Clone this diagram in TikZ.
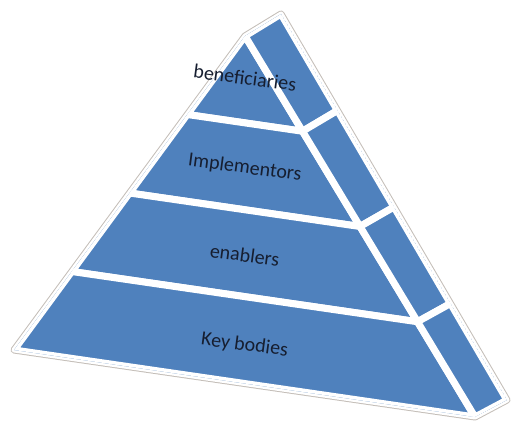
\documentclass[tikz,border=0pt]{standalone}
\usepackage{fontspec}
\setmainfont{Carlito}
\usetikzlibrary{calc}
\definecolor{layerblue}{RGB}{79,129,189}
\definecolor{rimgray}{RGB}{196,190,184}
\definecolor{labelink}{RGB}{22,30,48}

\begin{document}
\begin{tikzpicture}[x=1pt, y=-1pt,
    cell/.style={fill=layerblue, draw=white, line width=7pt, line join=round},
    rim/.style={draw=rimgray, line width=7pt, line join=round},
    label/.style={font=\fontsize{20}{24}\selectfont, text=labelink, rotate=-7.5}]
  \useasboundingbox (0,0) rectangle (511,422);

  % corners of the front and side faces
  \coordinate (F) at (245,36);
  \coordinate (L) at (14,350);
  \coordinate (B) at (475,417);
  \coordinate (T) at (281,14);
  \coordinate (R) at (507,400);
  \coordinate (M) at ($(L)!0.5!(B)$);

  % thin outline with a white margin
  \draw[rim] (L) -- (F) -- (T) -- (R) -- (B) -- cycle;
  \draw[white, fill=white, line width=5pt, line join=round] (L) -- (F) -- (T) -- (R) -- (B) -- cycle;

  % four layers, front and side
  \begin{scope}
    \clip (L) -- (F) -- (T) -- (R) -- (B) -- cycle;
    \foreach \a/\b in {0/0.25, 0.25/0.5, 0.5/0.75, 0.75/1} {
      \draw[cell] ($(F)!\a!(L)$) -- ($(F)!\b!(L)$) -- ($(F)!\b!(B)$) -- ($(F)!\a!(B)$) -- cycle;
      \draw[cell] ($(F)!\a!(B)$) -- ($(F)!\b!(B)$) -- ($(T)!\b!(R)$) -- ($(T)!\a!(R)$) -- cycle;
    }
  \end{scope}

  \node[label] (benef) at ($(F)!0.12!(M)$) {beneficiaries};
  \node[label] (impl) at ($(F)!0.38!(M)$) {Implementors};
  \node[label] (enab) at ($(F)!0.63!(M)$) {enablers};
  \node[label] (keyb) at ($(F)!0.89!(M)$) {Key bodies};
\end{tikzpicture}
\end{document}
